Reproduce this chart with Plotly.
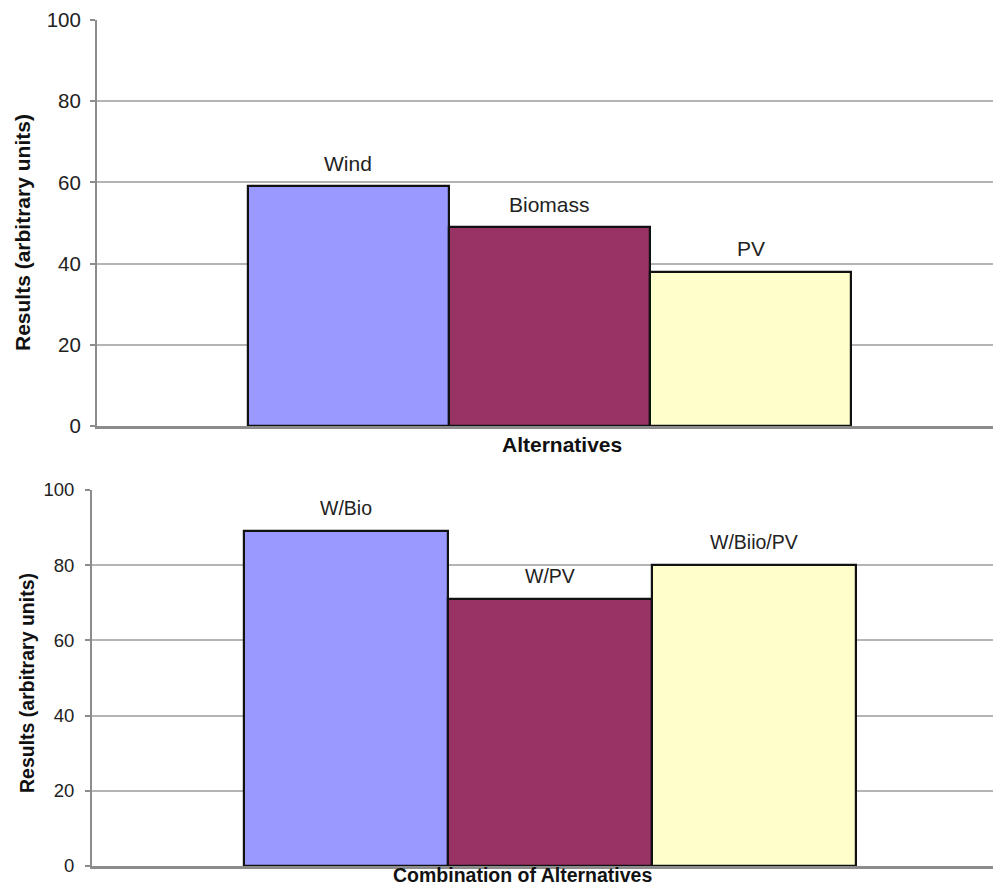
import plotly.graph_objects as go

# Individual alternatives (top panel)
alt_names = ["Wind", "Biomass", "PV"]
alt_values = [59, 49, 38]

# Combinations of alternatives (bottom panel)
combo_names = ["W/Bio", "W/PV", "W/Biio/PV"]
combo_values = [89, 71, 80]

bar_colors = ["#9999FF", "#993366", "#FFFFCC"]
y_ticks = [0, 20, 40, 60, 80, 100]

W, H = 993, 887
FONT = "Liberation Sans, Arial, sans-serif"
GRID = "#b4b4b4"
AXIS = "#8c8c8c"


def px_x(p):
    return p / W


def px_y(p):
    return 1 - p / H


fig = go.Figure()

fig.add_trace(go.Bar(
    x=alt_names, y=alt_values, xaxis="x", yaxis="y",
    marker=dict(color=bar_colors, line=dict(color="#111111", width=2.2)),
    showlegend=False, hoverinfo="x+y",
))
fig.add_trace(go.Bar(
    x=combo_names, y=combo_values, xaxis="x2", yaxis="y2",
    marker=dict(color=bar_colors, line=dict(color="#111111", width=2.2)),
    showlegend=False, hoverinfo="x+y",
))

yaxis_common = dict(
    range=[0, 100], tickvals=y_ticks, ticktext=[str(t) for t in y_ticks],
    showgrid=True, gridcolor=GRID, gridwidth=1.6,
    showline=True, linecolor=AXIS, linewidth=2,
    ticks="outside", ticklen=5, tickcolor=AXIS, tickwidth=1.5,
    zeroline=False, fixedrange=True, automargin=False,
)
xaxis_common = dict(
    type="category", showgrid=False, showticklabels=False, ticks="",
    showline=True, linecolor=AXIS, linewidth=2.5, zeroline=False,
    fixedrange=True, automargin=False,
)

fig.update_layout(
    width=W, height=H,
    margin=dict(l=0, r=0, t=0, b=0, autoexpand=False),
    paper_bgcolor="white", plot_bgcolor="white",
    bargap=0,
    xaxis=dict(xaxis_common, domain=[px_x(97), 1], anchor="y",
               range=[-1.251, 3.206]),
    yaxis=dict(yaxis_common, domain=[px_y(426), px_y(20)], anchor="x",
               ticklabelstandoff=5,
               tickfont=dict(family=FONT, size=20.5, color="#222222")),
    xaxis2=dict(xaxis_common, domain=[px_x(92), 1], anchor="y2",
                range=[-1.245, 3.17]),
    yaxis2=dict(yaxis_common, domain=[px_y(866), px_y(490)], anchor="x2",
                ticklabelstandoff=7,
                tickfont=dict(family=FONT, size=18.5, color="#222222")),
)

annotations = []
# Series names written above each bar
for names, vals, xr, yr, fs in [(alt_names, alt_values, "x", "y", 21),
                                (combo_names, combo_values, "x2", "y2", 19.5)]:
    for n, v in zip(names, vals):
        annotations.append(dict(
            x=n, y=v, xref=xr, yref=yr, text=n, showarrow=False,
            yanchor="middle", yshift=23,
            font=dict(family=FONT, size=fs, color="#222222"),
        ))

top_title = dict(family=FONT, size=21, color="#111111")
bottom_title = dict(family=FONT, size=19.5, color="#111111")
# Axis titles
annotations += [
    dict(x=px_x(22), y=px_y(233), xref="paper", yref="paper",
         text="<b>Results (arbitrary units)</b>", textangle=-90,
         showarrow=False, xanchor="center", yanchor="middle", font=top_title),
    dict(x=px_x(27), y=px_y(683), xref="paper", yref="paper",
         text="<b>Results (arbitrary units)</b>", textangle=-90,
         showarrow=False, xanchor="center", yanchor="middle", font=bottom_title),
    dict(x=px_x(562), y=px_y(444), xref="paper", yref="paper",
         text="<b>Alternatives</b>", showarrow=False,
         xanchor="center", yanchor="middle", font=top_title),
    dict(x=px_x(522), y=px_y(875), xref="paper", yref="paper",
         text="<b>Combination of Alternatives</b>", showarrow=False,
         xanchor="center", yanchor="middle", font=bottom_title),
]
fig.update_layout(annotations=annotations)

fig.write_html("out.html")
